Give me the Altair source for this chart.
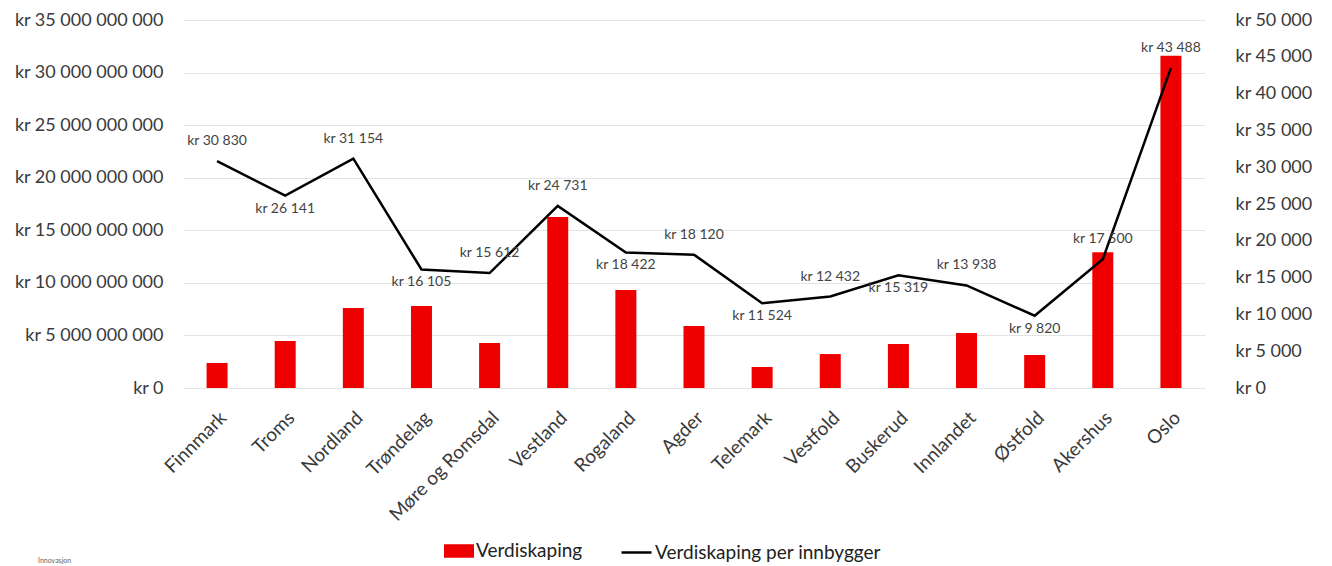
import altair as alt
import pandas as pd

fylker = ["Finnmark", "Troms", "Nordland", "Trøndelag", "Møre og Romsdal", "Vestland",
          "Rogaland", "Agder", "Telemark", "Vestfold", "Buskerud", "Innlandet",
          "Østfold", "Akershus", "Oslo"]
verdiskaping = [2.38e9, 4.47e9, 7.6e9, 7.8e9, 4.28e9, 16.26e9, 9.32e9, 5.9e9,
                2.0e9, 3.23e9, 4.18e9, 5.23e9, 3.14e9, 12.9e9, 31.6e9]
per_innbygger = [30830, 26141, 31154, 16105, 15612, 24731, 18422, 18120,
                 11524, 12432, 15319, 13938, 9820, 17500, 43488]

# label placement (style): which point labels sit below the line
labels_below = ["Troms", "Trøndelag", "Rogaland", "Telemark", "Buskerud", "Østfold"]


def kr(v):
    return "kr " + f"{int(round(v)):,}".replace(",", " ")


df = pd.DataFrame({
    "fylke": fylker,
    "verdi": verdiskaping,
    "per": per_innbygger,
})
df["lbl"] = df["per"].apply(kr)
df["below"] = df["fylke"].isin(labels_below)
df["s1"] = "Verdiskaping"
df["s2"] = "Verdiskaping per innbygger"

FONT = "Lato"
TXT = "#3a3a3a"

x = alt.X("fylke:N", sort=fylker, title=None,
          scale=alt.Scale(paddingInner=0.1, paddingOuter=0.05),
          axis=alt.Axis(labelAngle=-45, labelFontSize=19, labelColor=TXT,
                        labelFont=FONT, ticks=False, domain=False,
                        labelPadding=20, labelAlign="right", labelBaseline="top"))

left_expr = "'kr ' + replace(format(datum.value, ','), regexp(',', 'g'), ' ')"

bars = alt.Chart(df).mark_bar(size=21).encode(
    x=x,
    y=alt.Y("verdi:Q", title=None,
            scale=alt.Scale(domain=[0, 35e9], nice=False),
            axis=alt.Axis(orient="left", values=[i * 5e9 for i in range(8)],
                          labelExpr=left_expr, labelFontSize=18, labelColor=TXT,
                          labelFont=FONT, ticks=False, domain=False, labelPadding=20,
                          grid=True, gridColor="#e3e3e3", gridWidth=1.2)),
    fill=alt.Fill("s1:N", title=None,
                  scale=alt.Scale(domain=["Verdiskaping"], range=["#ee0000"]),
                  legend=alt.Legend(orient="none", legendX=261, legendY=516,
                                    symbolType="M-1,-0.45H1V0.45H-1Z", symbolSize=900,
                                    symbolStrokeWidth=0, labelFontSize=19,
                                    labelFont=FONT, labelColor="#222222", padding=0,
                                    labelOffset=2, labelLimit=400)),
)

yline = alt.Y("per:Q", title=None,
              scale=alt.Scale(domain=[0, 50000], nice=False),
              axis=alt.Axis(orient="right", values=[i * 5000 for i in range(11)],
                            labelExpr=left_expr, labelFontSize=18, labelColor=TXT,
                            labelFont=FONT, ticks=False, domain=False, labelPadding=30,
                            grid=False))

line = alt.Chart(df).mark_line(strokeWidth=2.5).encode(
    x=x,
    y=yline,
    stroke=alt.Stroke("s2:N", title=None,
                      scale=alt.Scale(domain=["Verdiskaping per innbygger"], range=["#000000"]),
                      legend=alt.Legend(orient="none", legendX=437, legendY=516,
                                        symbolType="stroke", symbolSize=900,
                                        symbolStrokeWidth=2.5, labelFontSize=19,
                                        labelFont=FONT, labelColor="#222222", padding=0,
                                        labelOffset=2, labelLimit=400)),
)

lab_above = alt.Chart(df).transform_filter("!datum.below").mark_text(
    dy=-20, fontSize=14, font=FONT, color="#444444").encode(
    x=x, y=yline, text="lbl:N")

lab_below = alt.Chart(df).transform_filter("datum.below").mark_text(
    dy=13, fontSize=14, font=FONT, color="#444444").encode(
    x=x, y=yline, text="lbl:N")

logo = alt.Chart(df.head(1)).mark_text(
    text="Innovasjon", fontSize=7, font=FONT, color="#666666", align="left").encode(
    x=alt.value(-145), y=alt.value(541))

line_layer = alt.layer(line, lab_above, lab_below)

chart = alt.layer(bars, line_layer, logo).resolve_scale(
    y="independent", fill="independent", stroke="independent"
).resolve_legend(fill="independent", stroke="independent").properties(
    width=1022, height=368, background="white",
    padding={"left": 6, "top": 3, "right": 5, "bottom": 0}
).configure_view(stroke=None)

chart.save("out.html", embed_options={"renderer": "svg", "actions": False})
